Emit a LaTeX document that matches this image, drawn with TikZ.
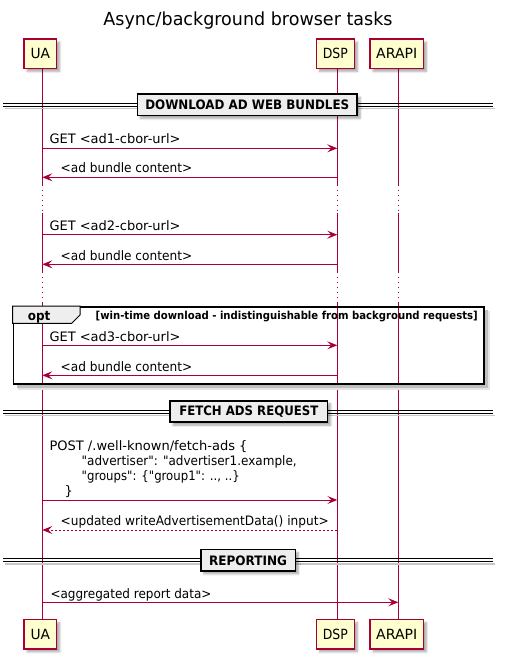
\documentclass[tikz,border=0pt]{standalone}
\usepackage{fontspec}
\setmainfont{DejaVu Sans}
\usepackage{graphicx}
\usetikzlibrary{arrows.meta,shadows.blur}
\definecolor{plred}{HTML}{A80036}
\definecolor{plyellow}{HTML}{FEFECE}
\definecolor{plgray}{HTML}{EEEEEE}
\newcommand{\fitw}[2]{\resizebox{#1pt}{\height}{#2}}
\newcommand{\sq}{\XeTeXglyph\XeTeXcharglyph"22\relax}
\begin{document}
\begin{tikzpicture}[x=1pt,y=-1pt,
  part/.style={draw=plred, fill=plyellow, line width=1.5pt, inner sep=0pt,
    minimum height=29.2pt, font=\fontsize{14}{16}\selectfont,
    blur shadow={shadow xshift=3pt, shadow yshift=-3pt, shadow blur steps=5, shadow opacity=35}},
  life/.style={draw=plred, line width=1pt},
  delay/.style={draw=plred, line width=1pt, dash pattern=on 1pt off 4pt},
  msg/.style={draw=plred, line width=1pt, -{Stealth[length=10pt,width=8pt,inset=4pt]}},
  ret/.style={msg, dash pattern=on 2pt off 2pt},
  lbl/.style={anchor=base west, inner sep=0pt, font=\fontsize{13}{15}\selectfont},
  divbox/.style={draw=black, fill=plgray, line width=1.5pt, inner sep=0pt,
    minimum height=21.2pt, font=\bfseries\fontsize{13}{15}\selectfont,
    blur shadow={shadow xshift=3pt, shadow yshift=-3pt, shadow blur steps=5, shadow opacity=35}},
  divline/.style={draw=black, line width=1pt},
  divshadow/.style={draw=black!22, line width=1.5pt},
]
\useasboundingbox (0,0) rectangle (504,660);

% lifeline x positions
\coordinate (ua) at (42.3,0);
\coordinate (dsp) at (337.3,0);
\coordinate (arapi) at (398.3,0);

% title
\node[anchor=base, inner sep=0pt, font=\fontsize{18}{20}\selectfont] (title) at (248,26)
  {\fitw{289}{Async/background browser tasks}};

% lifelines
\foreach \p in {ua,dsp,arapi} {
  \draw[life] (\p |- 0,69) -- (\p |- 0,186);
  \draw[delay] (\p |- 0,190) -- (\p |- 0,211);
  \draw[life] (\p |- 0,212.7) -- (\p |- 0,273);
  \draw[delay] (\p |- 0,276.7) -- (\p |- 0,298);
  \draw[life] (\p |- 0,302) -- (\p |- 0,619);
}

% participants
\node[part, minimum width=32.5pt] (uaT) at (40.3,53.7) {\fitw{19.5}{UA}};
\node[part, minimum width=37.8pt] (dspT) at (335.4,53.7) {\fitw{25}{DSP}};
\node[part, minimum width=53.2pt] (arapiT) at (396.7,53.7) {\fitw{41}{ARAPI}};
\node[part, minimum width=32.5pt] (uaB) at (40.3,634.3) {\fitw{19.5}{UA}};
\node[part, minimum width=37.8pt] (dspB) at (335.4,634.3) {\fitw{25}{DSP}};
\node[part, minimum width=53.2pt] (arapiB) at (396.7,634.3) {\fitw{41}{ARAPI}};

% dividers
\foreach \c in {104.7,411.5,560.3} {
  \draw[divshadow] (5,\c+3.8) -- (495,\c+3.8);
  \draw[divline] (3,\c-1.5) -- (493,\c-1.5);
  \draw[divline] (3,\c+1.5) -- (493,\c+1.5);
}
\node[divbox, minimum width=219.8pt] (div1) at (247.3,104.7) {\fitw{204}{DOWNLOAD AD WEB BUNDLES}};
\node[divbox, minimum width=157.5pt] (div2) at (248.8,411.5) {\fitw{139}{FETCH ADS REQUEST}};
\node[divbox, minimum width=94.5pt] (div3) at (248,560.3) {\fitw{78}{REPORTING}};

% messages: download ad web bundles
\draw[msg] (ua |- 0,148.3) -- (dsp |- 0,148.3);
\node[lbl] (m1) at (49.3,144) {\fitw{131}{GET <ad1-cbor-url>}};
\draw[msg] (dsp |- 0,177.3) -- (ua |- 0,177.3);
\node[lbl] (m2) at (60.5,173) {\fitw{131.5}{<ad bundle content>}};
\draw[msg] (ua |- 0,234.7) -- (dsp |- 0,234.7);
\node[lbl] (m3) at (49.3,230.4) {\fitw{131}{GET <ad2-cbor-url>}};
\draw[msg] (dsp |- 0,264.3) -- (ua |- 0,264.3);
\node[lbl] (m4) at (60.5,260) {\fitw{131.5}{<ad bundle content>}};

% opt frame
\draw[black!25, line width=2.5pt] (486.5,310) -- (486.5,386.5) -- (17,386.5);
\draw[black!10, line width=2pt] (488.8,311) -- (488.8,388.8) -- (18,388.8);
\node[draw=black, line width=1.5pt, inner sep=0pt, anchor=north west,
  minimum width=470.6pt, minimum height=77.3pt] (opt) at (12.7,306) {};
\draw[draw=black, fill=plgray, line width=1pt] (opt.north west) -- ++(67.3,0) -- ++(0,9)
  -- ++(-8.3,8.3) -- (opt.north west |- 0,323.3) -- cycle;
\node[anchor=base, inner sep=0pt, font=\bfseries\fontsize{13}{15}\selectfont] (optlbl) at (39.2,320.3) {\fitw{22.5}{opt}};
\node[anchor=base west, inner sep=0pt, font=\bfseries\fontsize{11}{13}\selectfont] (guard) at (95.5,319.3)
  {\fitw{382}{[win-time download - indistinguishable from background requests]}};
\draw[msg] (ua |- 0,345.3) -- (dsp |- 0,345.3);
\node[lbl] (m5) at (49.3,341) {\fitw{131}{GET <ad3-cbor-url>}};
\draw[msg] (dsp |- 0,375.3) -- (ua |- 0,375.3);
\node[lbl] (m6) at (60.5,371) {\fitw{131.5}{<ad bundle content>}};

% fetch ads request
\node[lbl] (p1) at (49.3,450) {\fitw{198}{POST /.well-known/fetch-ads \{}};
\node[lbl] (p2) at (81.5,465.3) {\fitw{215}{\sq advertiser\sq: \sq advertiser1.example,}};
\node[lbl] (p3) at (81.5,480.7) {\fitw{158}{\sq groups\sq: \{\sq group1\sq: .., ..\}}};
\node[lbl] (p4) at (64.5,495.7) {\}};
\draw[msg] (ua |- 0,500) -- (dsp |- 0,500);
\draw[ret] (dsp |- 0,530) -- (ua |- 0,530);
\node[lbl] (m8) at (60.5,525.7) {\fitw{268}{<updated writeAdvertisementData() input>}};

% reporting
\draw[msg] (ua |- 0,602.3) -- (arapi |- 0,602.3);
\node[lbl] (m9) at (50.3,598) {\fitw{161}{<aggregated report data>}};
\end{tikzpicture}
\end{document}
